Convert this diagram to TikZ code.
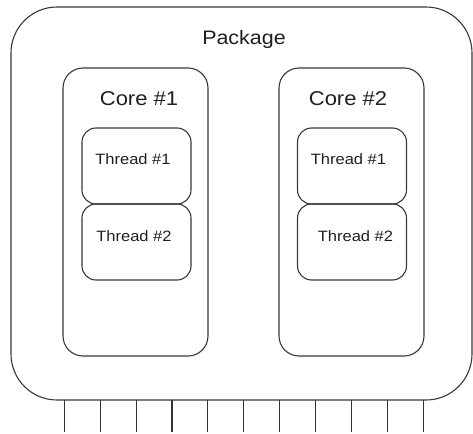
\documentclass[tikz,border=0pt]{standalone}
\usepackage{fontspec}
\setmainfont{Liberation Sans}
\newcommand\stretchtext[1]{\scalebox{1.1}[1]{#1}}
\begin{document}
\begin{tikzpicture}[x=1pt,y=-1pt,
  outline/.style={draw=black!78,line width=1.1pt},
  pkgbox/.style={outline,rounded corners=46pt,inner sep=0pt},
  corebox/.style={outline,rounded corners=20pt,inner sep=0pt,
    minimum width=145pt,minimum height=288pt},
  threadbox/.style={outline,rounded corners=14pt,inner sep=0pt,
    minimum width=109pt,minimum height=76pt},
  lbl/.style={anchor=base,inner sep=0pt,text=black!88},
  pinline/.style={draw=black!80,line width=1.1pt}]
\useasboundingbox (0,0) rectangle (473,433);
% package outline
\node[pkgbox,minimum width=461pt,minimum height=393pt] (package) at (241.5,203.5) {};
\node[lbl,font=\fontsize{19.5}{20}\selectfont] (pkglabel) at (244,45) {\stretchtext{Package}};
% cores
\node[corebox] (core1) at (135.5,212) {};
\node[corebox] (core2) at (351.5,212) {};
\node[lbl,font=\fontsize{20}{21}\selectfont] (core1label) at (139,106) {\stretchtext{Core \#1}};
\node[lbl,font=\fontsize{20}{21}\selectfont] (core2label) at (348,106) {\stretchtext{Core \#2}};
% threads
\node[threadbox] (t11) at (136.5,166) {};
\node[threadbox] (t12) at (136.5,242) {};
\node[threadbox] (t21) at (352,166) {};
\node[threadbox] (t22) at (352,242) {};
\node[lbl,font=\fontsize{15}{16}\selectfont] (t11label) at (133,164.5) {\stretchtext{Thread \#1}};
\node[lbl,font=\fontsize{15}{16}\selectfont] (t12label) at (134,241.5) {\stretchtext{Thread \#2}};
\node[lbl,font=\fontsize{15}{16}\selectfont] (t21label) at (348.5,164.5) {\stretchtext{Thread \#1}};
\node[lbl,font=\fontsize{15}{16}\selectfont] (t22label) at (355.5,241.5) {\stretchtext{Thread \#2}};
% pins along the bottom edge
\foreach \i in {0,...,10}{
  \coordinate (pintop\i) at (64.3+35.9*\i,400);
  \coordinate (pinend\i) at (64.3+35.9*\i,432);
  \draw[pinline] (pintop\i) -- (pinend\i);
}
\end{tikzpicture}
\end{document}
